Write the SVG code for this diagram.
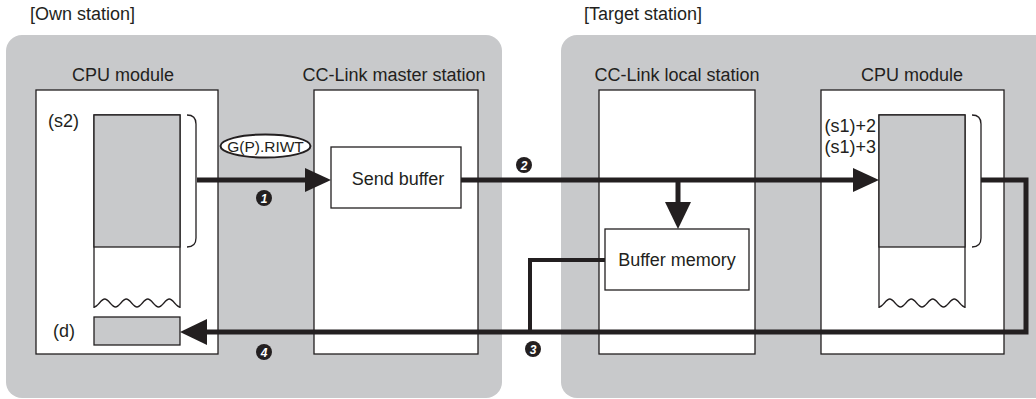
<svg xmlns="http://www.w3.org/2000/svg" width="1036" height="399" viewBox="0 0 1036 399">
<style>
.t{font-family:"Liberation Sans",Arial,sans-serif;font-size:18px;fill:#231f20}
.panel{fill:#c8c9cb}
.box{fill:#fff;stroke:#231f20;stroke-width:1.3}
.blk{fill:#c8c9cb;stroke:#231f20;stroke-width:1.3}
.thin{fill:none;stroke:#231f20;stroke-width:1.3}
.main{fill:none;stroke:#231f20;stroke-width:5}
.br{fill:none;stroke:#231f20;stroke-width:4}
.head{fill:#231f20}
.bd{fill:#231f20}
.bn{font-family:"Liberation Sans",Arial,sans-serif;font-size:12px;font-weight:bold;font-style:italic;fill:#fff;text-anchor:middle}
</style>
<rect width="1036" height="399" fill="#fff"/>
<g id="own-station">
<rect class="panel" x="6" y="35" width="496" height="363" rx="16"/>
<text class="t" x="30" y="20">[Own station]</text>
</g>
<g id="target-station">
<rect class="panel" x="561" y="35" width="490" height="363" rx="16"/>
<text class="t" x="584" y="20">[Target station]</text>
</g>
<g id="cpu-own">
<text class="t" x="123" y="81" text-anchor="middle">CPU module</text>
<rect class="box" x="36" y="90" width="182" height="264"/>
<path class="box" d="M94,308 V115 H180 V308"/>
<rect class="blk" x="94" y="115" width="86" height="132"/>
<path class="thin" d="M94,307 C97.9,307 100.9,299 104.75,299 S111.6,307 115.5,307 S122.4,299 126.25,299 S133.1,307 137,307 S143.9,299 147.75,299 S154.6,307 158.5,307 S165.4,299 169.25,299 S176.1,307 180,307"/>
<path class="thin" d="M187,115 Q196,115 196,124 V238 Q196,247 187,247"/>
<text class="t" x="48" y="127">(s2)</text>
<rect class="blk" x="94" y="317" width="86" height="28"/>
<text class="t" x="53" y="337">(d)</text>
</g>
<g id="master-station">
<text class="t" x="394" y="81" text-anchor="middle">CC-Link master station</text>
<rect class="box" x="314" y="90" width="164" height="264"/>
<rect class="box" x="331" y="147" width="130" height="61"/>
<text class="t" x="398" y="185" text-anchor="middle">Send buffer</text>
</g>
<g id="local-station">
<text class="t" x="677" y="81" text-anchor="middle">CC-Link local station</text>
<rect class="box" x="599" y="90" width="156" height="264"/>
<rect class="box" x="605" y="229" width="144" height="61"/>
<text class="t" x="677" y="266" text-anchor="middle">Buffer memory</text>
</g>
<g id="cpu-target">
<text class="t" x="912" y="81" text-anchor="middle">CPU module</text>
<rect class="box" x="821" y="90" width="183" height="264"/>
<path class="box" d="M879,308 V115 H965 V308"/>
<rect class="blk" x="879" y="115" width="86" height="132"/>
<path class="thin" d="M879,307 C882.9,307 885.9,299 889.75,299 S896.6,307 900.5,307 S907.4,299 911.25,299 S918.1,307 922,307 S928.9,299 932.75,299 S939.6,307 943.5,307 S950.4,299 954.25,299 S961.1,307 965,307"/>
<path class="thin" d="M972,115 Q981,115 981,124 V238 Q981,247 972,247"/>
<text class="t" x="876" y="132" text-anchor="end">(s1)+2</text>
<text class="t" x="876" y="153" text-anchor="end">(s1)+3</text>
</g>
<g id="instruction">
<ellipse cx="265.5" cy="146" rx="45" ry="11.5" fill="#fff" stroke="#231f20" stroke-width="2"/>
<text class="t" x="265.5" y="152" text-anchor="middle" style="font-size:15.5px">G(P).RIWT</text>
</g>
<g id="connectors">
<path class="main" d="M197,180 H307"/>
<path class="head" d="M305,168 L331,180 L305,192 Z"/>
<path class="main" d="M461,180 H855"/>
<path class="head" d="M853,168 L879,180 L853,192 Z"/>
<path class="main" d="M678,180 V204"/>
<path class="head" d="M665,202 L678,229 L691,202 Z"/>
<path class="main" d="M981,180 H1026 V332 H205"/>
<path class="head" d="M207,319 L180,332 L207,345 Z"/>
<path class="br" d="M605,260 H530 V332"/>
</g>
<g id="badges">
<circle class="bd" cx="264" cy="198" r="8"/><text class="bn" x="264" y="202.5">1</text>
<circle class="bd" cx="524" cy="165" r="8"/><text class="bn" x="524" y="169.5">2</text>
<circle class="bd" cx="533" cy="349" r="8"/><text class="bn" x="533" y="353.5">3</text>
<circle class="bd" cx="264" cy="352" r="8"/><text class="bn" x="264" y="356.5">4</text>
</g>
</svg>
